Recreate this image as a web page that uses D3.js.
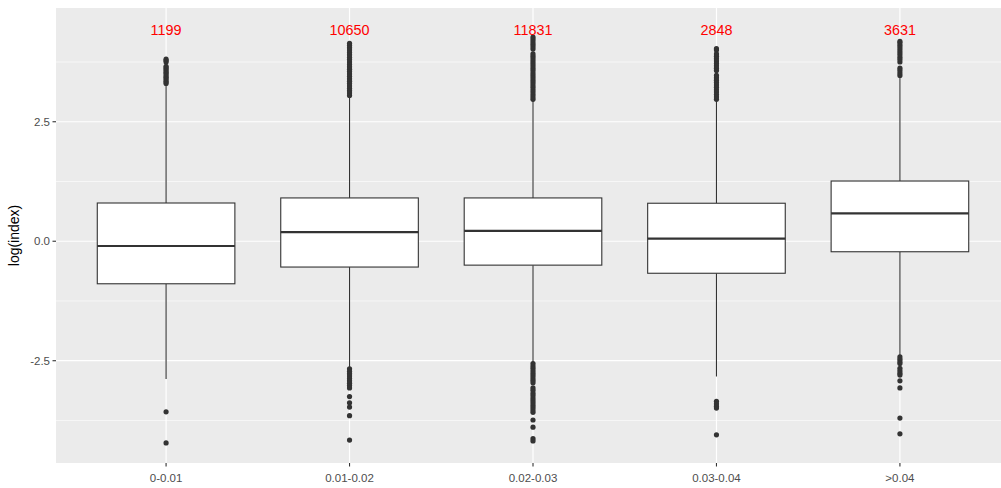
<!DOCTYPE html>
<html>
<head>
<meta charset="utf-8">
<script src="https://cdn.jsdelivr.net/npm/d3@7"></script>
<style>
  html, body { margin: 0; padding: 0; background: #ffffff; }
  svg { display: block; font-family: "Liberation Sans", Arial, sans-serif; }
</style>
</head>
<body>
<svg id="chart" width="1001" height="488"></svg>
<script>
// Groups along the x axis and the number of observations in each
const categories = ["0-0.01", "0.01-0.02", "0.02-0.03", "0.03-0.04", ">0.04"];
const counts = [1199, 10650, 11831, 2848, 3631];

// Five-number summaries of log(index) per group
const q1 = [-0.89, -0.54, -0.50, -0.67, -0.22];
const medians = [-0.10, 0.19, 0.215, 0.054, 0.585];
const q3 = [0.80, 0.906, 0.906, 0.795, 1.26];
const whiskerLow = [-2.88, -2.66, -2.55, -2.83, -2.41];
const whiskerHigh = [3.29, 3.04, 2.96, 2.96, 3.46];

// Outlying observations per group
const outliers0 = [3.30, 3.33, 3.36, 3.40, 3.43, 3.46, 3.50, 3.53, 3.56, 3.60, 3.63, 3.66,
  3.75, 3.78, 3.81, -3.57, -4.22];
const outliers1 = [3.05, 3.10, 3.15, 3.20, 3.25, 3.30, 3.35, 3.40, 3.45, 3.50, 3.55, 3.60,
  3.65, 3.70, 3.75, 3.80, 3.85, 3.90, 3.95, 4.00, 4.05, 4.10, 4.14,
  -2.67, -2.72, -2.77, -2.82, -2.87, -2.92, -2.97, -3.02, -3.07,
  -3.25, -3.38, -3.47, -3.65, -4.16];
const outliers2 = [2.97, 3.02, 3.07, 3.12, 3.17, 3.22, 3.27, 3.32, 3.37, 3.42, 3.47, 3.52,
  3.57, 3.62, 3.67, 3.72, 3.77, 3.82, 3.87, 3.92, 4.02, 4.07, 4.12, 4.17, 4.22, 4.27,
  -2.56, -2.61, -2.66, -2.71, -2.76, -2.81, -2.86, -2.91, -2.96,
  -3.07, -3.12, -3.18, -3.23, -3.28, -3.33, -3.38, -3.43, -3.48, -3.53, -3.58,
  -3.74, -3.89, -4.13, -4.18];
const outliers3 = [2.97, 3.02, 3.07, 3.12, 3.17, 3.22, 3.27, 3.32, 3.37, 3.42, 3.47,
  3.57, 3.62, 3.67, 3.72, 3.77, 3.82, 3.87, 3.92, 4.00, 4.03,
  -3.35, -3.40, -3.45, -3.49, -4.05];
const outliers4 = [3.47, 3.52, 3.57, 3.62, 3.75, 3.80, 3.85, 3.90, 3.95, 4.00, 4.05, 4.10, 4.15, 4.18,
  -2.42, -2.47, -2.52, -2.56, -2.66, -2.71, -2.76, -2.80, -2.92, -3.07, -3.70, -4.03];
const outliers = [outliers0, outliers1, outliers2, outliers3, outliers4];

const yTicks = [-2.5, 0, 2.5];
const yMinorTicks = [-3.75, -1.25, 1.25, 3.75];
const yTickLabels = ["-2.5", "0.0", "2.5"];
const countLabelValue = 4.42;

const svg = d3.select("#chart");
const panel = { left: 56, right: 1010, top: 8, bottom: 463 };

const x = d3.scalePoint()
  .domain(categories)
  .range([panel.left, panel.right])
  .padding(0.6);
const boxWidth = x.step() * 0.75;

const y = d3.scaleLinear()
  .domain([-4.64, 4.88])
  .range([panel.bottom, panel.top]);

// Panel background
svg.append("rect")
  .attr("x", panel.left).attr("y", panel.top)
  .attr("width", panel.right - panel.left).attr("height", panel.bottom - panel.top)
  .attr("fill", "#EBEBEB");

// Grid lines
const grid = svg.append("g");
grid.selectAll("line.minor").data(yMinorTicks).join("line")
  .attr("x1", panel.left).attr("x2", panel.right)
  .attr("y1", d => y(d)).attr("y2", d => y(d))
  .attr("stroke", "#ffffff").attr("stroke-width", 0.6);
grid.selectAll("line.major").data(yTicks).join("line")
  .attr("x1", panel.left).attr("x2", panel.right)
  .attr("y1", d => y(d)).attr("y2", d => y(d))
  .attr("stroke", "#ffffff").attr("stroke-width", 1.2);
grid.selectAll("line.vmajor").data(categories).join("line")
  .attr("x1", d => x(d)).attr("x2", d => x(d))
  .attr("y1", panel.top).attr("y2", panel.bottom)
  .attr("stroke", "#ffffff").attr("stroke-width", 1.2);

// Boxplots
const boxes = svg.append("g");
categories.forEach((c, i) => {
  const cx = x(c);
  const g = boxes.append("g");
  g.append("line")
    .attr("x1", cx).attr("x2", cx)
    .attr("y1", y(q3[i])).attr("y2", y(whiskerHigh[i]))
    .attr("stroke", "#333333").attr("stroke-width", 1.1);
  g.append("line")
    .attr("x1", cx).attr("x2", cx)
    .attr("y1", y(q1[i])).attr("y2", y(whiskerLow[i]))
    .attr("stroke", "#333333").attr("stroke-width", 1.1);
  g.append("rect")
    .attr("x", cx - boxWidth / 2).attr("width", boxWidth)
    .attr("y", y(q3[i])).attr("height", y(q1[i]) - y(q3[i]))
    .attr("fill", "#ffffff").attr("stroke", "#333333").attr("stroke-width", 1.1);
  g.append("line")
    .attr("x1", cx - boxWidth / 2).attr("x2", cx + boxWidth / 2)
    .attr("y1", y(medians[i])).attr("y2", y(medians[i]))
    .attr("stroke", "#333333").attr("stroke-width", 2.2);
  g.selectAll("circle").data(outliers[i]).join("circle")
    .attr("cx", cx).attr("cy", d => y(d)).attr("r", 2.6)
    .attr("fill", "#333333");
});

// Count labels above each group
svg.append("g").selectAll("text").data(categories).join("text")
  .attr("x", d => x(d))
  .attr("y", y(countLabelValue))
  .attr("dy", "0.36em")
  .attr("text-anchor", "middle")
  .attr("font-size", "14.4px")
  .attr("fill", "#FF0000")
  .text((d, i) => counts[i]);

// Axes
const xAxis = svg.append("g");
xAxis.selectAll("line").data(categories).join("line")
  .attr("x1", d => x(d)).attr("x2", d => x(d))
  .attr("y1", panel.bottom).attr("y2", panel.bottom + 3.5)
  .attr("stroke", "#333333").attr("stroke-width", 1.1);
xAxis.selectAll("text").data(categories).join("text")
  .attr("x", d => x(d)).attr("y", 482)
  .attr("text-anchor", "middle")
  .attr("font-size", "11.5px").attr("fill", "#4D4D4D")
  .text(d => d);

const yAxis = svg.append("g");
yAxis.selectAll("line").data(yTicks).join("line")
  .attr("x1", panel.left - 3.5).attr("x2", panel.left)
  .attr("y1", d => y(d)).attr("y2", d => y(d))
  .attr("stroke", "#333333").attr("stroke-width", 1.1);
yAxis.selectAll("text").data(yTicks).join("text")
  .attr("x", panel.left - 6).attr("y", d => y(d))
  .attr("dy", "0.36em")
  .attr("text-anchor", "end")
  .attr("font-size", "11.5px").attr("fill", "#4D4D4D")
  .text((d, i) => yTickLabels[i]);

svg.append("text")
  .attr("transform", `translate(19, ${(panel.top + panel.bottom) / 2}) rotate(-90)`)
  .attr("text-anchor", "middle")
  .attr("font-size", "14px").attr("fill", "#000000")
  .text("log(index)");
</script>
</body>
</html>
